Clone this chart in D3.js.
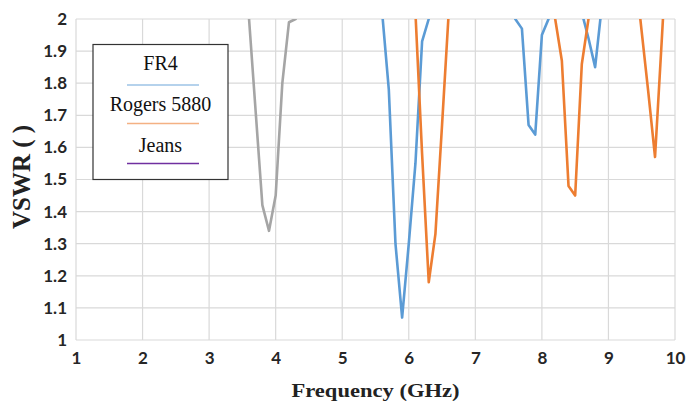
<!DOCTYPE html>
<html>
<head>
<meta charset="utf-8">
<script src="https://cdn.jsdelivr.net/npm/d3@7"></script>
<style>
  html, body { margin: 0; padding: 0; background: #fff; }
  svg { display: block; }
</style>
</head>
<body>
<svg id="chart" width="686" height="405"></svg>
<script>
// VSWR vs frequency for three substrates (values above 2 run off the top of the plot)
const xTicks = [1, 2, 3, 4, 5, 6, 7, 8, 9, 10];
const yTicks = [1, 1.1, 1.2, 1.3, 1.4, 1.5, 1.6, 1.7, 1.8, 1.9, 2];
const yTickLabels = ["1", "1.1", "1.2", "1.3", "1.4", "1.5", "1.6", "1.7", "1.8", "1.9", "2"];

const fr4Freq = [5.5, 5.6, 5.7, 5.8, 5.9, 6.0, 6.1, 6.2, 6.3, 6.4, null,
                 7.5, 7.6, 7.7, 7.8, 7.9, 8.0, 8.1, 8.2, null,
                 8.5, 8.6, 8.7, 8.8, 8.9, 9.0];
const fr4Vswr = [2.28, 2.02, 1.78, 1.30, 1.07, 1.30, 1.55, 1.93, 2.00, 2.15, null,
                 2.05, 2.00, 1.97, 1.67, 1.64, 1.95, 2.00, 2.10, null,
                 2.20, 2.02, 1.94, 1.85, 2.04, 2.30];

const rogersFreq = [6.0, 6.1, 6.2, 6.3, 6.4, 6.5, 6.6, 6.7, null,
                    8.1, 8.2, 8.3, 8.4, 8.5, 8.6, 8.7, 8.8, null,
                    9.4, 9.5, 9.6, 9.7, 9.8, 9.9];
const rogersVswr = [2.50, 2.02, 1.58, 1.18, 1.33, 1.67, 2.02, 2.30, null,
                    2.15, 2.00, 1.87, 1.48, 1.45, 1.86, 2.00, 2.20, null,
                    2.15, 1.96, 1.77, 1.57, 1.93, 2.30];

const jeansFreq = [3.5, 3.6, 3.7, 3.8, 3.9, 4.0, 4.1, 4.2, 4.3, 4.4];
const jeansVswr = [2.30, 2.00, 1.71, 1.42, 1.34, 1.45, 1.80, 1.99, 2.00, 2.05];

const seriesNames = ["FR4", "Rogers 5880", "Jeans"];
const lineColors = ["#5b9bd5", "#ed7d31", "#a5a5a5"];
const legendColors = ["#9dc3e6", "#f4b183", "#7030a0"];

const svg = d3.select("#chart");
const margin = { left: 76, right: 11, top: 19, bottom: 65 };
const W = 686, H = 405;
const x = d3.scaleLinear().domain([1, 10]).range([margin.left, W - margin.right]);
const y = d3.scaleLinear().domain([1, 2]).range([H - margin.bottom, margin.top]);

// grid
const grid = svg.append("g").attr("stroke", "#d9d9d9").attr("stroke-width", 1.2);
grid.selectAll("line.h").data(yTicks).join("line")
  .attr("x1", x(1)).attr("x2", x(10))
  .attr("y1", d => y(d)).attr("y2", d => y(d));
grid.selectAll("line.v").data(xTicks).join("line")
  .attr("y1", y(1)).attr("y2", y(2))
  .attr("x1", d => x(d)).attr("x2", d => x(d));

// axes (labels only; grid already draws the frame)
const tickFont = "Lato, 'Liberation Sans', sans-serif";
const xAxis = svg.append("g").attr("transform", `translate(0,${y(1)})`)
  .call(d3.axisBottom(x).tickValues(xTicks).tickSize(0).tickPadding(12).tickFormat(d3.format("d")));
const yAxis = svg.append("g").attr("transform", `translate(${x(1)},0)`)
  .call(d3.axisLeft(y).tickValues(yTicks).tickSize(0).tickPadding(9)
    .tickFormat((d, i) => yTickLabels[i]));
[xAxis, yAxis].forEach(a => {
  a.select(".domain").remove();
  a.selectAll("text").attr("font-family", tickFont).attr("font-weight", "bold")
    .attr("font-size", 17).attr("fill", "#262626");
});

// series lines
svg.append("clipPath").attr("id", "plotClip").append("rect")
  .attr("x", x(1)).attr("y", y(2)).attr("width", x(10) - x(1)).attr("height", y(1) - y(2));

const line = d3.line()
  .defined(d => d[0] !== null && d[1] !== null)
  .x(d => x(d[0])).y(d => y(d[1]));

const series = [
  d3.zip(fr4Freq, fr4Vswr),
  d3.zip(rogersFreq, rogersVswr),
  d3.zip(jeansFreq, jeansVswr)
];
const plot = svg.append("g").attr("clip-path", "url(#plotClip)");
// draw Jeans first so FR4 / Rogers sit on top
[2, 0, 1].forEach(i => {
  plot.append("path").datum(series[i])
    .attr("fill", "none").attr("stroke", lineColors[i])
    .attr("stroke-width", 2.6).attr("stroke-linejoin", "round")
    .attr("d", line);
});

// legend
const serif = "'Liberation Serif', 'Times New Roman', serif";
const lg = svg.append("g");
lg.append("rect").attr("x", 93).attr("y", 44.5).attr("width", 135).attr("height", 135)
  .attr("fill", "#fff").attr("stroke", "#333").attr("stroke-width", 1.2);
const legendTextY = [70, 110.5, 151.5];
const legendLineY = [85, 123.5, 163.5];
seriesNames.forEach((name, i) => {
  lg.append("text").attr("x", 160.5).attr("y", legendTextY[i])
    .attr("text-anchor", "middle").attr("font-family", serif).attr("font-size", 20)
    .attr("fill", "#111").text(name);
  lg.append("line").attr("x1", 127).attr("x2", 199)
    .attr("y1", legendLineY[i]).attr("y2", legendLineY[i])
    .attr("stroke", legendColors[i]).attr("stroke-width", 1.6);
});

// axis titles
svg.append("text")
  .attr("x", (x(1) + x(10)) / 2).attr("y", 397)
  .attr("text-anchor", "middle").attr("font-family", serif).attr("font-weight", "bold")
  .attr("font-size", 19).attr("textLength", 168).attr("lengthAdjust", "spacingAndGlyphs")
  .attr("fill", "#222").text("Frequency (GHz)");
svg.append("text")
  .attr("transform", `translate(30,177) rotate(-90)`)
  .attr("text-anchor", "middle").attr("font-family", serif).attr("font-weight", "bold")
  .attr("font-size", 25).attr("fill", "#222").text("VSWR ( )");
</script>
</body>
</html>
